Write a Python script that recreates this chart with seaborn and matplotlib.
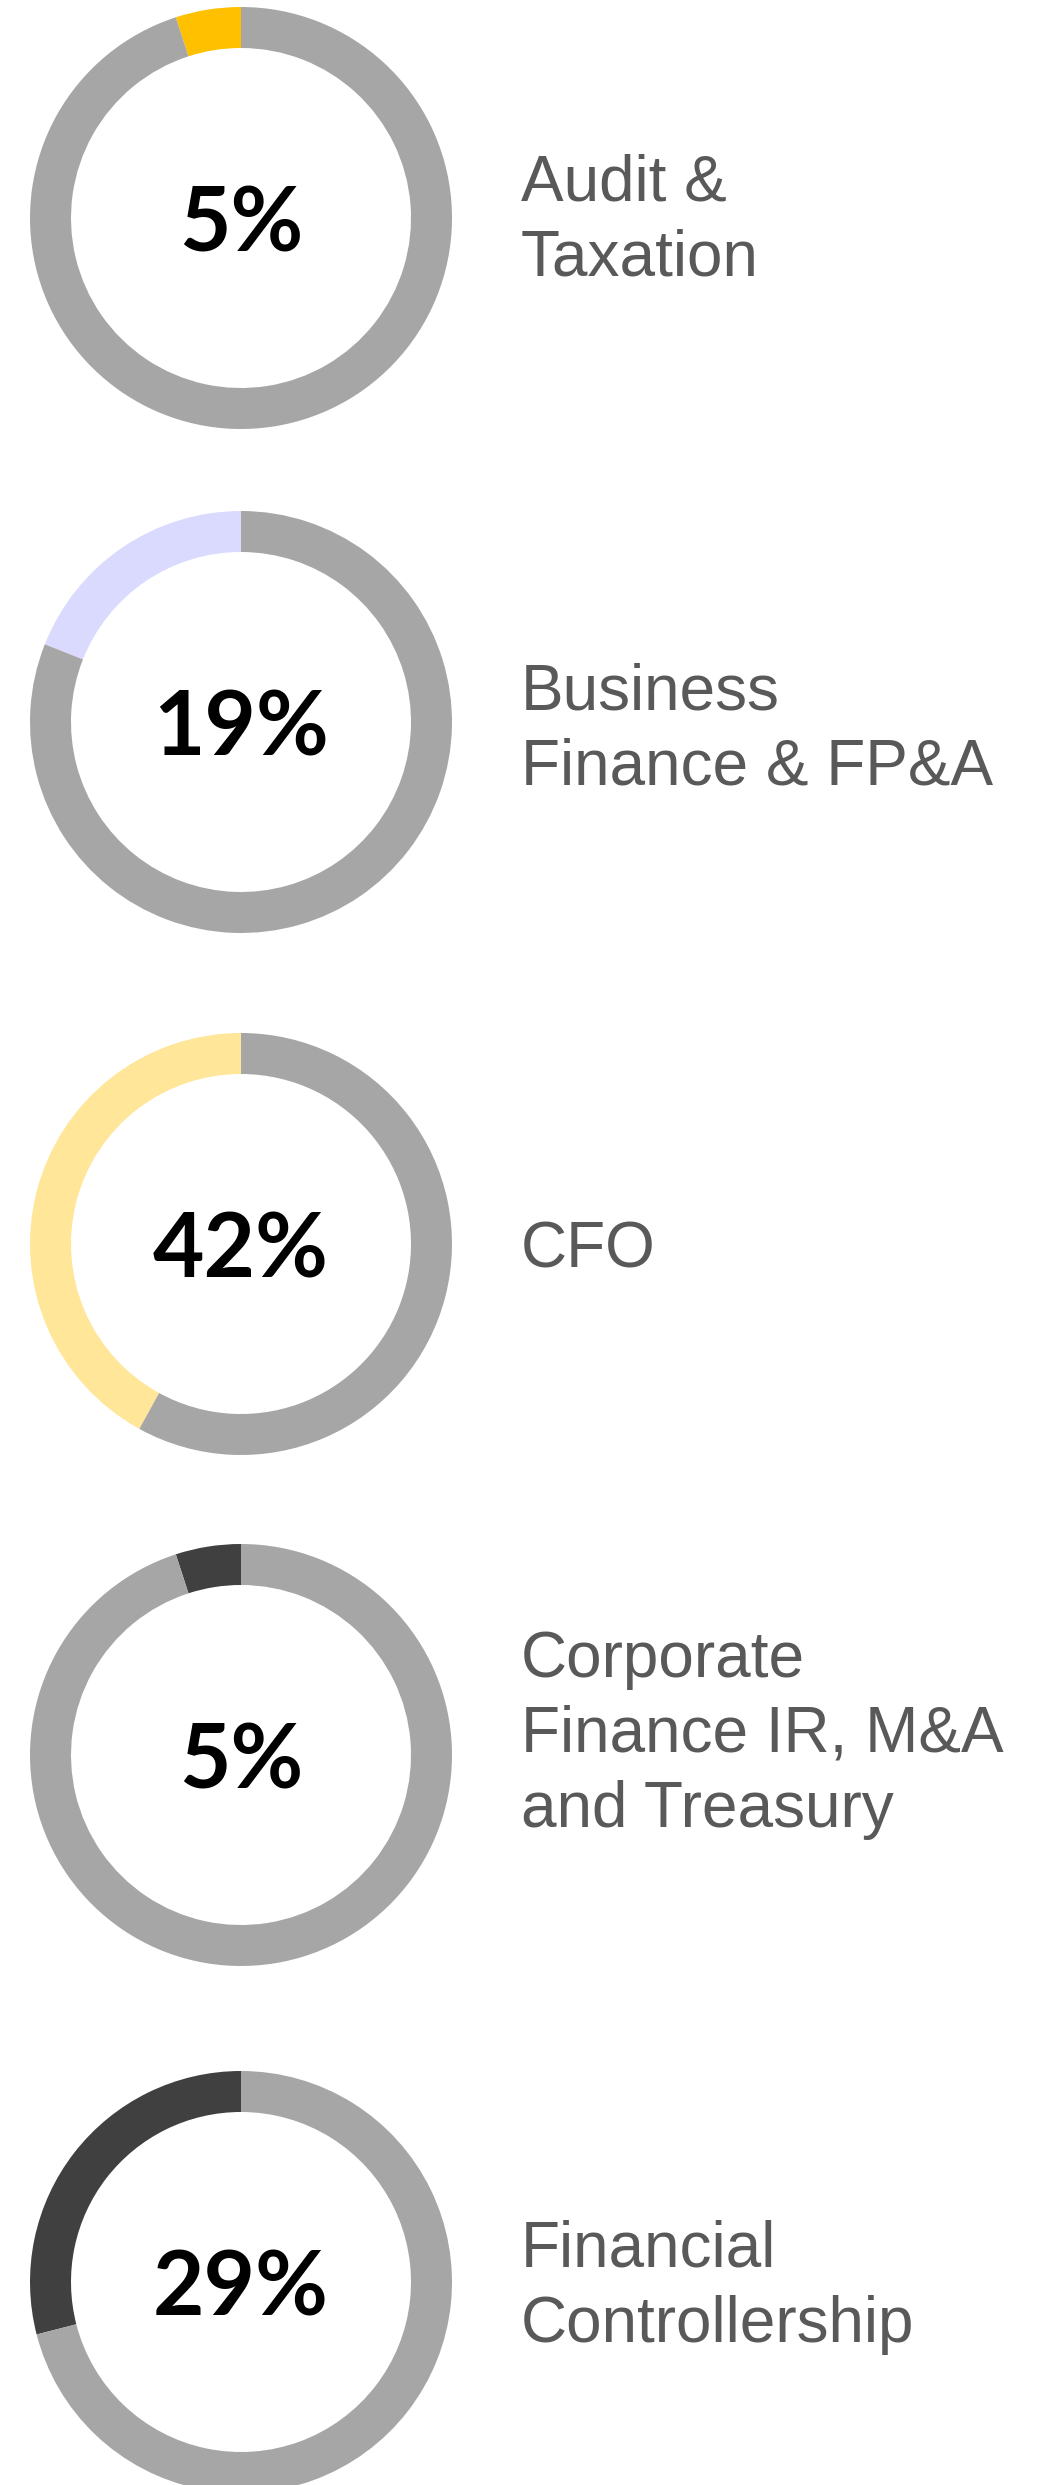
import matplotlib
matplotlib.use("Agg")
import matplotlib.pyplot as plt
import seaborn as sns

# Share of roles by finance function
functions = [
    "Audit &\nTaxation",
    "Business\nFinance & FP&A",
    "CFO",
    "Corporate\nFinance IR, M&A\nand Treasury",
    "Financial\nControllership",
]
shares = [5, 19, 42, 5, 29]
accent_colors = ["#FFC000", "#DADAFF", "#FFE699", "#404040", "#404040"]
rest_color = "#A6A6A6"

sns.set_theme(style="white")
plt.rcParams["font.family"] = ["Liberation Sans", "DejaVu Sans"]

W, H = 1039, 2485
fig = plt.figure(figsize=(W / 100, H / 100), dpi=100)
fig.patch.set_facecolor("white")

# layout in pixels
centers_y = [218, 722, 1244, 1755, 2282]
label_dy = [3, 8, 6, -20, 5]
cx = 241
r_out = 211
ring = 41
label_x = 521

for name, pct, col, cy, dy in zip(functions, shares, accent_colors, centers_y, label_dy):
    left = (cx - r_out) / W
    bottom = (H - cy - r_out) / H
    ax = fig.add_axes([left, bottom, 2 * r_out / W, 2 * r_out / H])
    wedges, _ = ax.pie(
        [pct, 100 - pct],
        colors=[col, rest_color],
        startangle=90,
        counterclock=True,
        radius=1.0,
        wedgeprops=dict(width=ring / r_out, linewidth=0, edgecolor="none"),
    )
    for w in wedges:
        w.set_clip_on(False)
    ax.set_xlim(-1, 1)
    ax.set_ylim(-1, 1)
    ax.set_aspect("equal")
    ax.axis("off")
    ax.text(0, 0, f"{pct}%", ha="center", va="center_baseline",
            fontsize=64, fontweight="bold", color="black",
            family=["Lato", "DejaVu Sans"])
    fig.text(label_x / W, 1 - (cy + dy) / H, name, ha="left", va="center",
             fontsize=46, color="#595959", linespacing=1.32)

fig.savefig("out.png", dpi=100, facecolor="white")
